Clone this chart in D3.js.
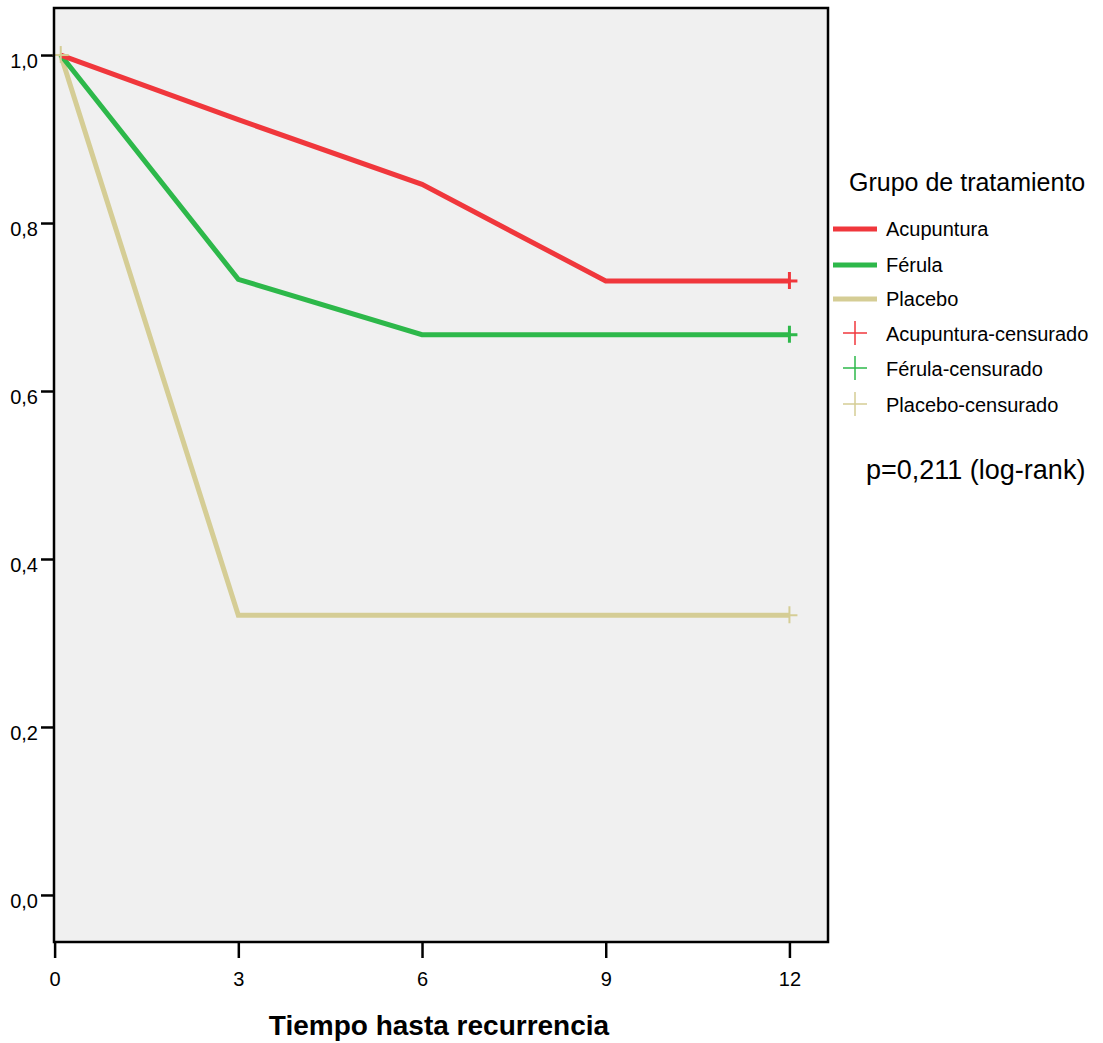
<!DOCTYPE html>
<html><head><meta charset="utf-8">
<script src="https://cdn.jsdelivr.net/npm/d3@7"></script>
<style>body{margin:0;background:#fff;} text{font-family:"Liberation Sans",Arial,sans-serif;}</style>
</head><body>
<svg id="c" width="1103" height="1043"></svg>
<script>
const times = [0.1, 3, 6, 9, 12];
const groups = ["Acupuntura", "Férula", "Placebo"];
const acupuntura = [1.0, 0.923, 0.846, 0.731, 0.731];
const ferula = [1.0, 0.733, 0.667, 0.667, 0.667];
const placebo = [1.0, 0.333, 0.333, 0.333, 0.333];
const censorTimes = {Acupuntura:[12], "Férula":[12], Placebo:[0.1, 12]};
const xTicks = [0, 3, 6, 9, 12];
const yTicks = [0, 0.2, 0.4, 0.6, 0.8, 1.0];
const colors = {Acupuntura:"#f0373c", "Férula":"#2db84a", Placebo:"#d5cd95"};
const pText = "p=0,211 (log-rank)";

const series = {Acupuntura: acupuntura, "Férula": ferula, Placebo: placebo};
const svg = d3.select("#c");
const L=54, R=828, T=8, B=942;
const x = d3.scaleLinear().domain([-0.01, 12.63]).range([L, R]);
const y = d3.scaleLinear().domain([-0.056, 1.056]).range([B, T]);

svg.append("rect").attr("x",L).attr("y",T).attr("width",R-L).attr("height",B-T).attr("fill","#f0f0f0");

const fmt = d => d3.format(".1f")(d).replace(".", ",");
const yAx = svg.append("g").attr("transform",`translate(${L},0)`)
  .call(d3.axisLeft(y).tickValues(yTicks).tickSize(13).tickPadding(3).tickFormat(fmt));
const xAx = svg.append("g").attr("transform",`translate(0,${B})`)
  .call(d3.axisBottom(x).tickValues(xTicks).tickSize(16).tickPadding(14).tickFormat(d3.format("d")));
[yAx,xAx].forEach(g=>{
  g.attr("font-size",20);
  g.select(".domain").remove();
  g.selectAll(".tick line").attr("stroke","#000").attr("stroke-width",2.5);
  g.selectAll(".tick text").attr("font-size",20).attr("fill","#000").style("font-family","'Liberation Sans',Arial,sans-serif");
});
yAx.selectAll(".tick text").attr("dy","0.62em");

const line = d3.line().x((d,i)=>x(times[i])).y(d=>y(d));
groups.slice().reverse().forEach(g=>{
  svg.append("path").datum(series[g]).attr("d",line).attr("fill","none")
    .attr("stroke",colors[g]).attr("stroke-width",5).attr("stroke-linejoin","miter");
});
// censor marks
groups.forEach(g=>{
  censorTimes[g].forEach(t=>{
    const i = times.indexOf(t);
    const v = series[g][i];
    const cx = x(t), cy = y(v);
    const w = g==="Placebo" ? 2 : 3;
    svg.append("line").attr("x1",cx).attr("x2",cx).attr("y1",cy-9).attr("y2",cy+8).attr("stroke",colors[g]).attr("stroke-width",w);
    svg.append("line").attr("x1",cx-8).attr("x2",cx+8).attr("y1",cy).attr("y2",cy).attr("stroke",colors[g]).attr("stroke-width",w);
  });
});

svg.append("rect").attr("x",L).attr("y",T).attr("width",R-L).attr("height",B-T).attr("fill","none").attr("stroke","#000").attr("stroke-width",2.5);

svg.append("text").attr("x",439).attr("y",1035).attr("text-anchor","middle").attr("font-size",28).attr("font-weight","bold").text("Tiempo hasta recurrencia");

// legend
svg.append("text").attr("x",849).attr("y",191).attr("font-size",25).text("Grupo de tratamiento");
const rowY = [229, 265, 299, 334, 369, 405];
groups.forEach((g,i)=>{
  svg.append("line").attr("x1",833).attr("x2",877).attr("y1",rowY[i]).attr("y2",rowY[i]).attr("stroke",colors[g]).attr("stroke-width",5);
  svg.append("text").attr("x",886).attr("y",rowY[i]+7).attr("font-size",20).text(g);
});
groups.forEach((g,i)=>{
  const cy = rowY[i+3]-1, cx = 855;
  svg.append("line").attr("x1",cx).attr("x2",cx).attr("y1",cy-12).attr("y2",cy+12).attr("stroke",colors[g]).attr("stroke-width",1.5);
  svg.append("line").attr("x1",cx-12).attr("x2",cx+12).attr("y1",cy).attr("y2",cy).attr("stroke",colors[g]).attr("stroke-width",1.5);
  svg.append("text").attr("x",886).attr("y",rowY[i+3]+7).attr("font-size",20).text(g+"-censurado");
});
svg.append("text").attr("x",866).attr("y",479).attr("font-size",27).text(pText);
</script>
</body></html>
